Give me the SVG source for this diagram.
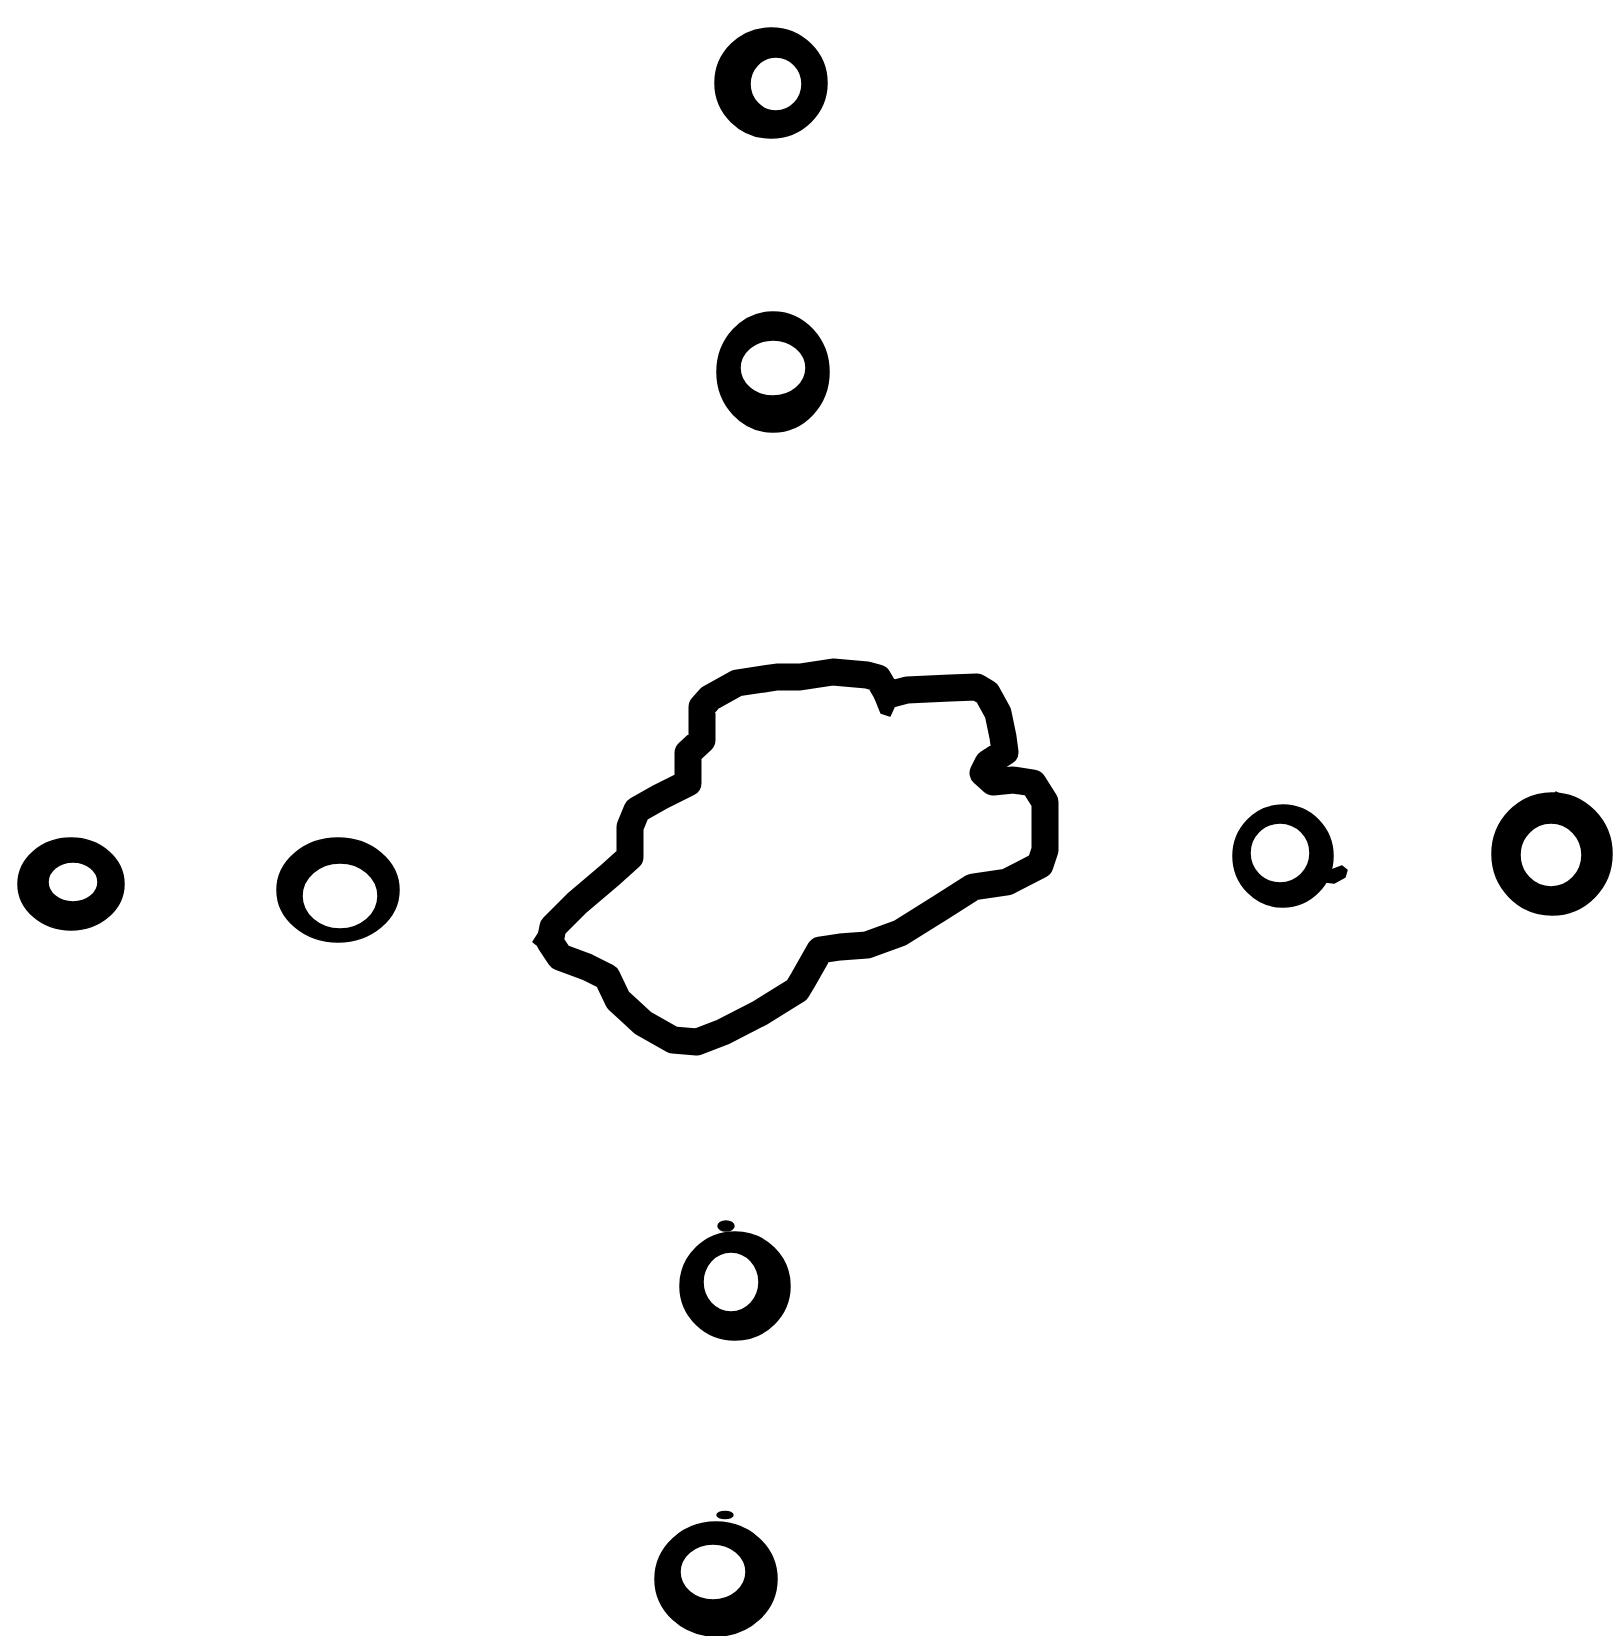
<svg xmlns="http://www.w3.org/2000/svg" width="1614" height="1636" viewBox="0 0 1614 1636">
<style>
.ink{fill:#000;fill-rule:evenodd;stroke:#000;stroke-width:1.5;stroke-linejoin:round}
.outline{fill:none;stroke:#000;stroke-width:27;stroke-linejoin:round;stroke-linecap:round}
</style>
<rect width="1614" height="1636" fill="#fff"/>
<g id="blob">
<path class="outline" d="M630,847 L630,827 L637,810 L660,797 L688,783 L688,753 L702,740 L702,707 L710,698 L737,683 L777,677 L800,677 L833,672 L867,675 L878,678 L888,695 L907,690 L950,688 L977,687 L987,693 L998,713 L1003,737 L1005,752 L988,763 L983,773 L993,782 L1013,780 L1033,783 L1045,802 L1045,827 L1045,850 L1040,865 L1007,882 L973,887 L940,908 L900,933 L867,945 L840,947 L820,950 L803,980 L797,990 L760,1013 L723,1032 L697,1042 L673,1040 L643,1023 L618,1000 L607,977 L587,967 L560,957 L550,942 L553,927 L577,903 L610,875 L630,857 Z"/>
<path class="ink" d="M870,668 L892,680 L895,705 L890,716 L881,713 L875,698 Z"/>
<path class="ink" d="M533,942 L542,928 L546,952 Z"/>
</g>
<g id="ring-top-1">
<path class="ink" d="M715,83 a56,55 0 1,0 112,0 a56,55 0 1,0 -112,0 Z M750,84 a26,27 0 1,0 52,0 a26,27 0 1,0 -52,0 Z"/>
</g>
<g id="ring-top-2">
<path class="ink" d="M717,372 a56,60 0 1,0 112,0 a56,60 0 1,0 -112,0 Z M740,368 a33,28 0 1,0 66,0 a33,28 0 1,0 -66,0 Z"/>
</g>
<g id="ring-left-1">
<path class="ink" d="M18,884 a53,46 0 1,0 106,0 a53,46 0 1,0 -106,0 Z M48,882 a25,20 0 1,0 50,0 a25,20 0 1,0 -50,0 Z"/>
</g>
<g id="ring-left-2">
<path class="ink" d="M277,890 a61,52 0 1,0 122,0 a61,52 0 1,0 -122,0 Z M302,896 a38,33 0 1,0 76,0 a38,33 0 1,0 -76,0 Z"/>
</g>
<g id="ring-right-1">
<path class="ink" d="M1233,856 a50,51 0 1,0 100,0 a50,51 0 1,0 -100,0 Z M1250,853 a30,30 0 1,0 60,0 a30,30 0 1,0 -60,0 Z"/>
<path class="ink" d="M1326,872 L1342,866 L1347,870 L1345,877 L1334,883 L1326,882 Z"/>
</g>
<g id="ring-right-2">
<path class="ink" d="M1492,854 a60,61 0 1,0 120,0 a60,61 0 1,0 -120,0 Z M1520,855 a31,32 0 1,0 62,0 a31,32 0 1,0 -62,0 Z"/>
<path class="ink" d="M1554,795 L1556,792 L1562,796 L1560,799 Z"/>
</g>
<g id="ring-bottom-1">
<path class="ink" d="M680,1286 a55,54 0 1,0 110,0 a55,54 0 1,0 -110,0 Z M703,1282 a28,30 0 1,0 56,0 a28,30 0 1,0 -56,0 Z"/>
<ellipse class="ink" cx="726" cy="1226" rx="8" ry="5"/>
</g>
<g id="ring-bottom-2">
<path class="ink" d="M655,1579 a61,57 0 1,0 122,0 a61,57 0 1,0 -122,0 Z M680,1572 a33,28 0 1,0 66,0 a33,28 0 1,0 -66,0 Z"/>
<ellipse class="ink" cx="725" cy="1515" rx="8" ry="3.5"/>
</g>
</svg>
